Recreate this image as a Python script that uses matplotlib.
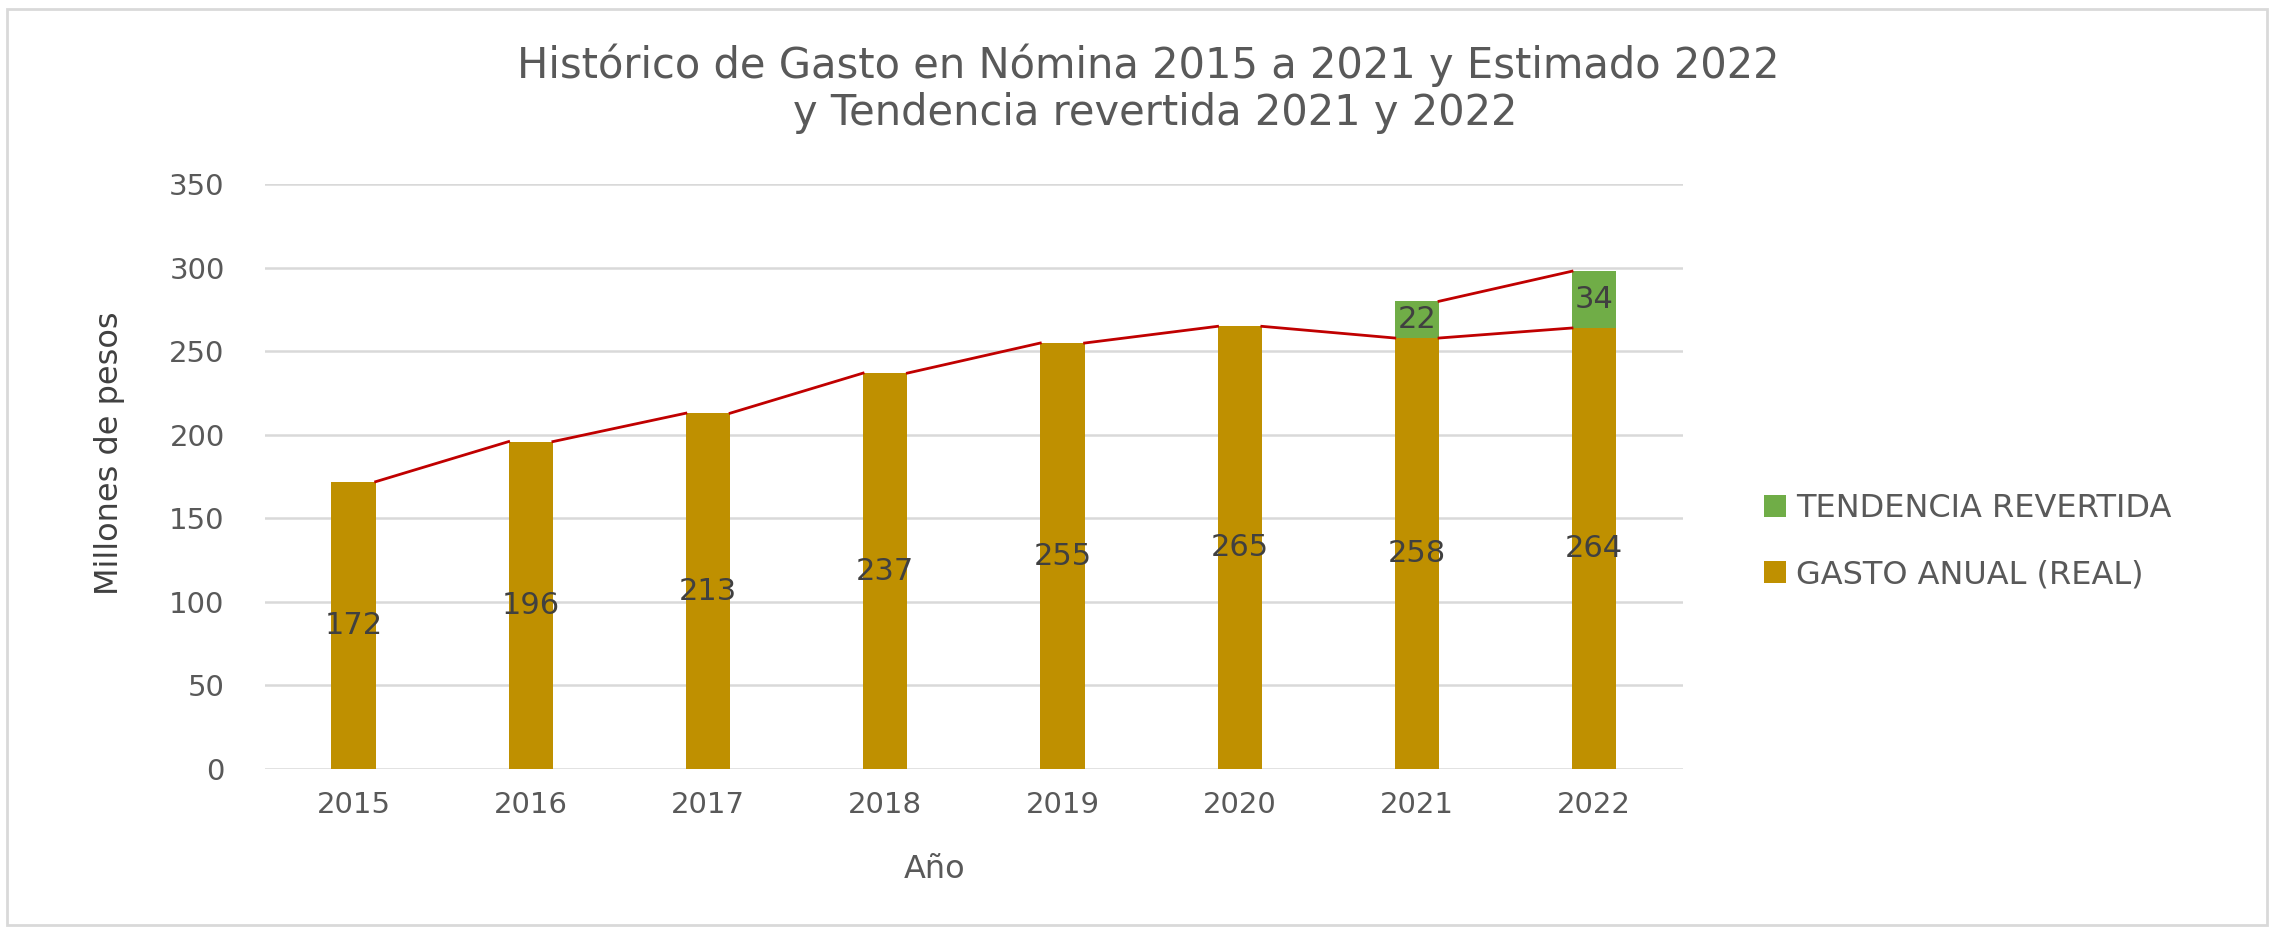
import numpy as np
import matplotlib.pyplot as plt
from matplotlib.patches import Rectangle

# datos
anios = ['2015', '2016', '2017', '2018', '2019', '2020', '2021', '2022']
gasto_real = [172, 196, 213, 237, 255, 265, 258, 264]
tendencia = [None, None, None, None, None, None, 22, 34]

c_gasto = '#BF9000'
c_tend = '#70AD47'
c_linea = '#C00000'
c_texto = '#595959'

fig = plt.figure(figsize=(22.74, 9.31), dpi=100)
ax = fig.add_axes([0.1165, 0.174, 0.6235, 0.628])

x = np.arange(len(anios))
w = 0.25
tend_vals = [t if t is not None else 0 for t in tendencia]

ax.bar(x, gasto_real, width=w, color=c_gasto, label='GASTO ANUAL (REAL)', zorder=2)
ax.bar(x, tend_vals, width=w, bottom=gasto_real, color=c_tend,
       label='TENDENCIA REVERTIDA', zorder=2)

# lineas de serie (estilo Excel)
for i in range(len(anios) - 1):
    ax.plot([x[i] + w / 2, x[i + 1] - w / 2], [gasto_real[i], gasto_real[i + 1]],
            color=c_linea, lw=2, zorder=3)
    if tendencia[i] is not None and tendencia[i + 1] is not None:
        ax.plot([x[i] + w / 2, x[i + 1] - w / 2],
                [gasto_real[i] + tendencia[i], gasto_real[i + 1] + tendencia[i + 1]],
                color=c_linea, lw=2, zorder=3)

# etiquetas de datos
for i, v in enumerate(gasto_real):
    ax.text(x[i], v / 2, str(v), ha='center', va='center', fontsize=22, color='#404040', zorder=4)
    if tendencia[i] is not None:
        ax.text(x[i], v + tendencia[i] / 2, str(tendencia[i]), ha='center', va='center',
                fontsize=22, color='#404040', zorder=4)

ax.set_xlim(-0.5, 7.5)
ax.set_ylim(0, 350)
ax.set_yticks(range(0, 351, 50))
ax.set_xticks(x)
ax.set_xticklabels(anios)
ax.tick_params(axis='both', length=0, labelsize=21, colors=c_texto)
ax.tick_params(axis='y', pad=29)
ax.tick_params(axis='x', pad=16)
ax.grid(axis='y', color='#D9D9D9', lw=1.8, zorder=0)
ax.set_axisbelow(True)
for s in ax.spines.values():
    s.set_visible(False)

fig.text(0.048, 0.513, 'Millones de pesos', rotation=90, ha='center', va='center',
         fontsize=23, color='#404040')
fig.text(0.411, 0.066, 'Año', ha='center', va='center', fontsize=23, color=c_texto)

fig.text(0.505, 0.93, 'Histórico de Gasto en Nómina 2015 a 2021 y Estimado 2022',
         ha='center', va='center', fontsize=30, color=c_texto)
fig.text(0.508, 0.879, 'y Tendencia revertida 2021 y 2022',
         ha='center', va='center', fontsize=30, color=c_texto)

h, l = ax.get_legend_handles_labels()
leg = fig.legend(h[::-1], l[::-1], loc='center left', bbox_to_anchor=(0.763, 0.418),
                 frameon=False, fontsize=23, labelcolor=c_texto, handlelength=0.7,
                 handleheight=0.7, handletextpad=0.3, labelspacing=1.1)

fig.patches.append(Rectangle((0.003, 0.006), 0.994, 0.984, transform=fig.transFigure,
                             fill=False, edgecolor='#D9D9D9', lw=2))

fig.savefig('out.png', dpi=100, facecolor='white')
